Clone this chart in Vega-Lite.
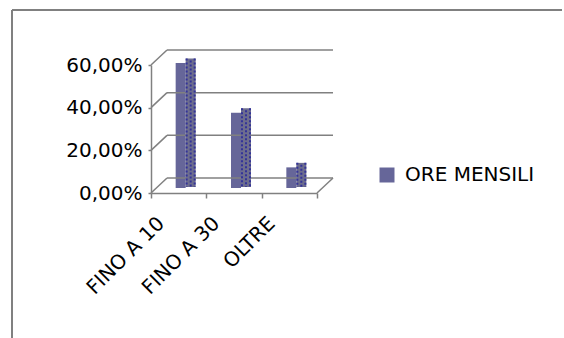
{
  "$schema": "https://vega.github.io/schema/vega-lite/v6.json",
  "width": 552,
  "height": 328,
  "autosize": {"type": "none"},
  "padding": {"left": 12, "top": 10, "right": 0, "bottom": 0},
  "background": "white",
  "config": {
    "view": {"stroke": "#808080", "strokeWidth": 2, "strokeDash": [550, 882, 328, 0]},
    "font": "DejaVu Sans",
    "axis": {"labelFont": "DejaVu Sans"},
    "legend": {"labelFont": "DejaVu Sans"}
  },
  "datasets": {
    "ore": [
      {"fascia": "FINO A 10", "quota": 0.574, "serie": "ORE MENSILI"},
      {"fascia": "FINO A 30", "quota": 0.341, "serie": "ORE MENSILI"},
      {"fascia": "OLTRE", "quota": 0.085, "serie": "ORE MENSILI"}
    ],
    "livelli": [{"v": 0}, {"v": 0.2}, {"v": 0.4}, {"v": 0.6}]
  },
  "layer": [
    {
      "data": {"name": "ore"},
      "mark": {"type": "bar", "size": 10, "xOffset": 2, "yOffset": -7.5, "y2Offset": -5},
      "encoding": {
        "x": {
          "field": "fascia",
          "type": "nominal",
          "scale": {"type": "band", "domain": ["FINO A 10", "FINO A 30", "OLTRE"], "range": [139, 305], "paddingInner": 0, "paddingOuter": 0},
          "axis": {
            "title": null,
            "offset": -145,
            "tickBand": "extent",
            "tickSize": 5,
            "tickColor": "#808080",
            "tickWidth": 1.5,
            "domainColor": "#808080",
            "domainWidth": 1.5,
            "labelAngle": -45,
            "labelAlign": "right",
            "labelBaseline": "middle",
            "labelOffset": -18,
            "labelPadding": 22,
            "labelFontSize": 20,
            "labelColor": "#000000"
          }
        },
        "y": {
          "field": "quota",
          "type": "quantitative",
          "scale": {"domain": [0, 0.6], "range": [183, 55], "nice": false, "zero": true},
          "axis": {
            "title": null,
            "offset": -139,
            "grid": false,
            "values": [0, 0.2, 0.4, 0.6],
            "labelExpr": "replace(format(datum.value, '.2%'), '.', ',')",
            "domainColor": "#808080",
            "domainWidth": 1.5,
            "tickColor": "#808080",
            "tickWidth": 1.5,
            "tickSize": 3,
            "labelPadding": 6,
            "labelFontSize": 20,
            "labelColor": "#000000"
          }
        },
        "y2": {"datum": 0},
        "color": {
          "field": "serie",
          "type": "nominal",
          "scale": {"range": ["#666699"]},
          "legend": {
            "title": null,
            "orient": "none",
            "legendX": 365,
            "legendY": 155,
            "symbolType": "square",
            "symbolSize": 225,
            "symbolStrokeWidth": 0,
            "symbolOpacity": 1,
            "labelFontSize": 20,
            "labelColor": "#000000",
            "labelOffset": 8
          }
        }
      }
    },
    {
      "data": {"name": "livelli"},
      "mark": {"type": "rule", "color": "#808080", "strokeWidth": 1.5, "xOffset": 16, "x2Offset": 16, "yOffset": -15},
      "encoding": {
        "x": {"datum": "FINO A 10", "type": "nominal", "bandPosition": 0, "title": null},
        "x2": {"datum": "OLTRE", "bandPosition": 1},
        "y": {"field": "v", "type": "quantitative", "title": null}
      }
    },
    {
      "data": {"name": "livelli"},
      "mark": {"type": "rule", "color": "#808080", "strokeWidth": 1.5, "x2Offset": 16, "y2Offset": -15},
      "encoding": {
        "x": {"datum": "FINO A 10", "type": "nominal", "bandPosition": 0, "title": null},
        "x2": {"datum": "FINO A 10", "bandPosition": 0},
        "y": {"field": "v", "type": "quantitative", "title": null},
        "y2": {"field": "v"}
      }
    },
    {
      "data": {"name": "livelli"},
      "transform": [{"filter": "datum.v == 0"}],
      "mark": {"type": "rule", "color": "#808080", "strokeWidth": 1.5, "x2Offset": 16, "y2Offset": -15},
      "encoding": {
        "x": {"datum": "OLTRE", "type": "nominal", "bandPosition": 1, "title": null},
        "x2": {"datum": "OLTRE", "bandPosition": 1},
        "y": {"field": "v", "type": "quantitative", "title": null},
        "y2": {"field": "v"}
      }
    },
    {
      "data": {"name": "ore"},
      "mark": {"type": "bar", "size": 10, "xOffset": 12, "yOffset": -12, "y2Offset": -6, "color": "#6d6d8e"},
      "encoding": {
        "x": {"field": "fascia", "type": "nominal", "title": null},
        "y": {"field": "quota", "type": "quantitative", "title": null},
        "y2": {"datum": 0}
      }
    },
    {
      "data": {"name": "ore"},
      "mark": {"type": "rule", "xOffset": 8, "yOffset": -12, "y2Offset": -6, "color": "#333399", "strokeWidth": 2, "strokeDash": [2, 2]},
      "encoding": {
        "x": {"field": "fascia", "type": "nominal", "title": null},
        "y": {"field": "quota", "type": "quantitative", "title": null},
        "y2": {"datum": 0}
      }
    },
    {
      "data": {"name": "ore"},
      "mark": {"type": "rule", "xOffset": 12, "yOffset": -12, "y2Offset": -6, "color": "#333399", "strokeWidth": 2, "strokeDash": [2, 2], "strokeDashOffset": 2},
      "encoding": {
        "x": {"field": "fascia", "type": "nominal", "title": null},
        "y": {"field": "quota", "type": "quantitative", "title": null},
        "y2": {"datum": 0}
      }
    },
    {
      "data": {"name": "ore"},
      "mark": {"type": "rule", "xOffset": 16, "yOffset": -12, "y2Offset": -6, "color": "#333399", "strokeWidth": 2, "strokeDash": [2, 2]},
      "encoding": {
        "x": {"field": "fascia", "type": "nominal", "title": null},
        "y": {"field": "quota", "type": "quantitative", "title": null},
        "y2": {"datum": 0}
      }
    }
  ]
}
